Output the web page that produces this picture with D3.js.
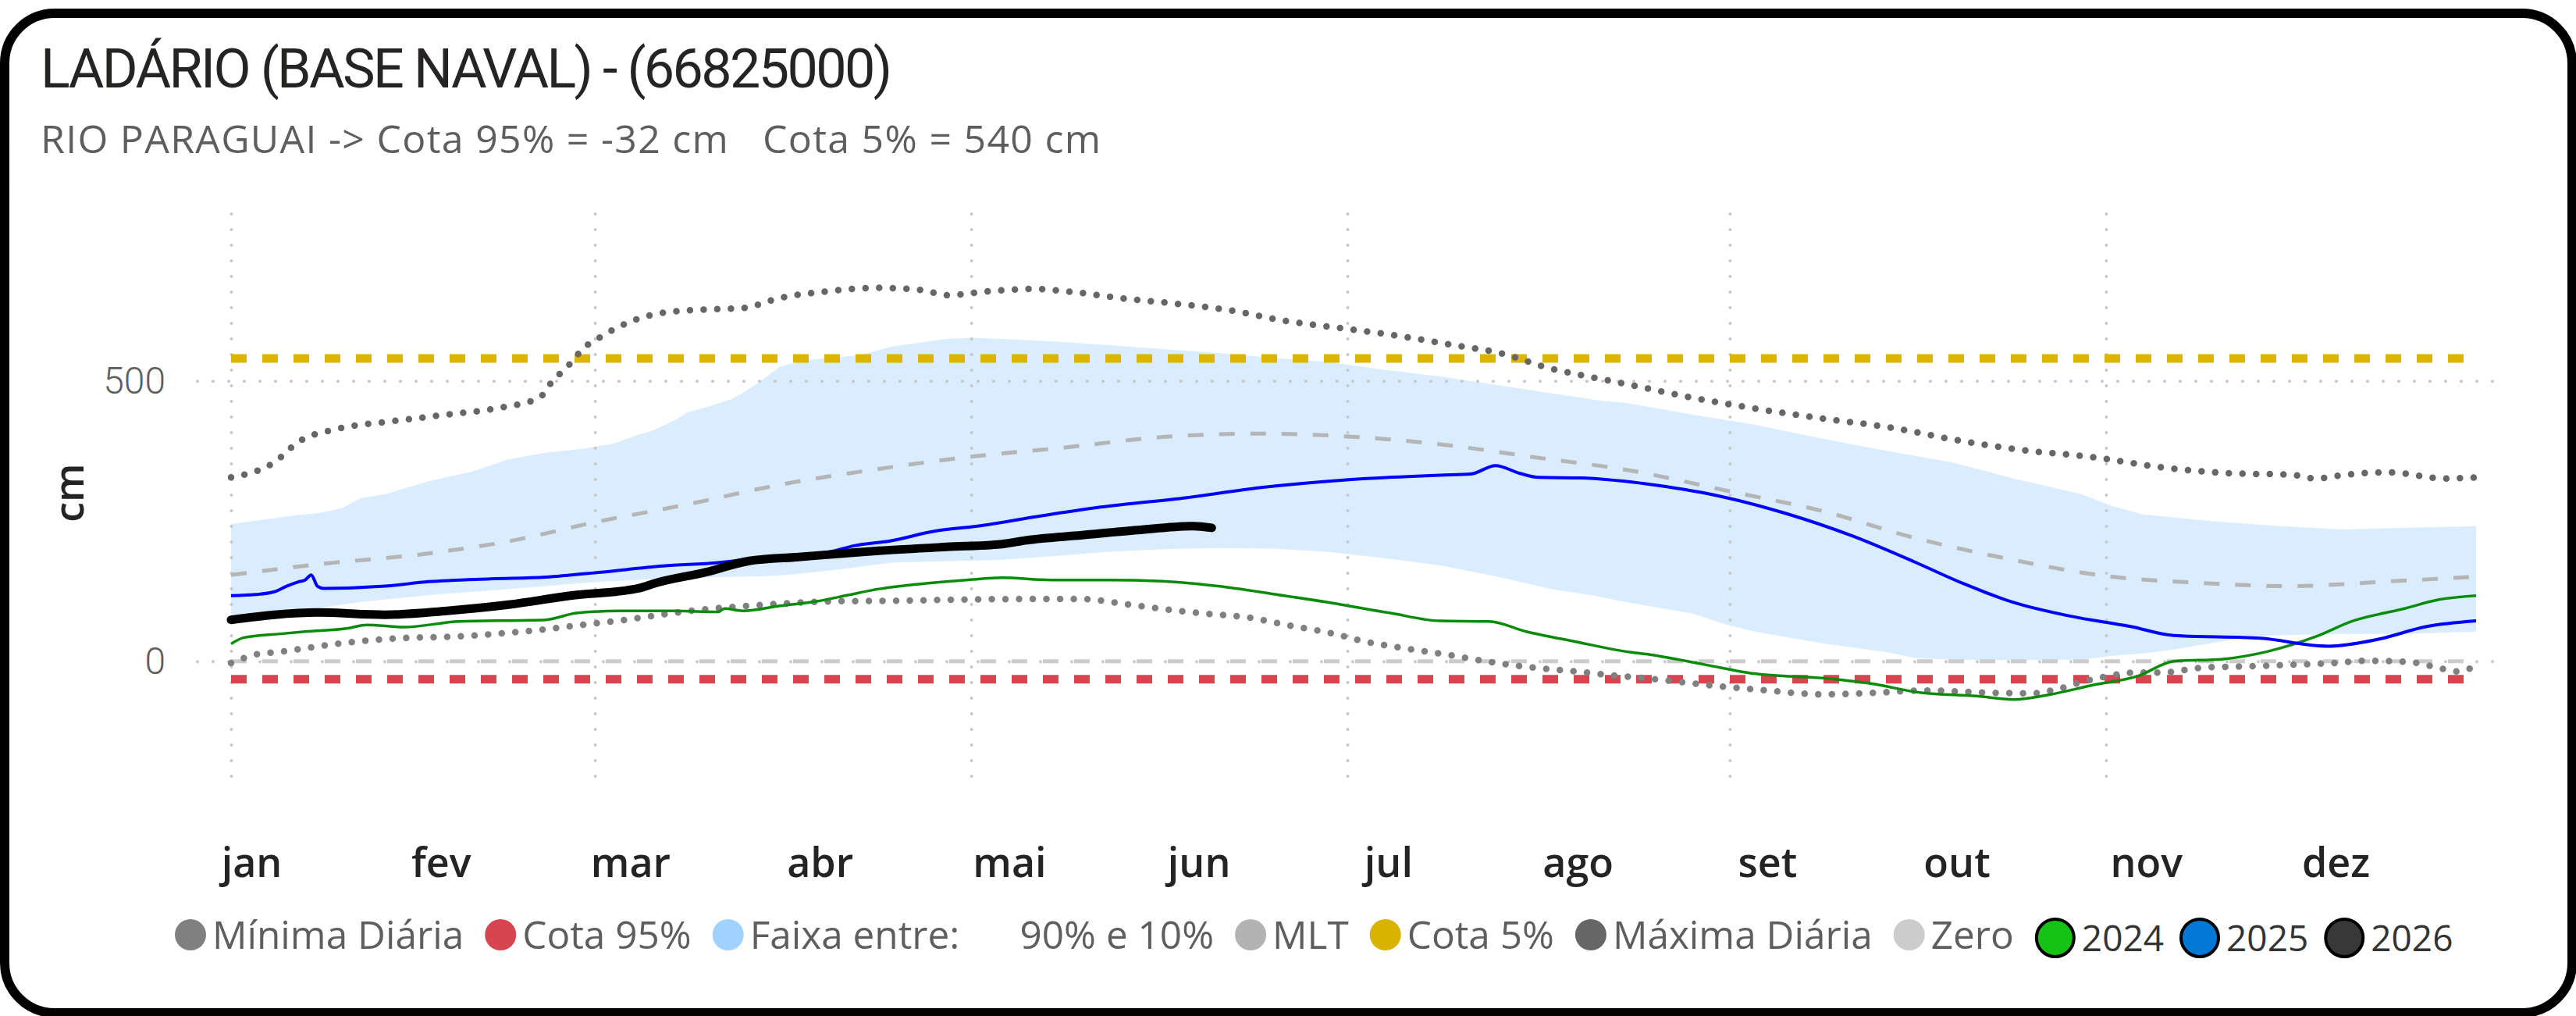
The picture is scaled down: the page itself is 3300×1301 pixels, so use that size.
<!DOCTYPE html>
<meta charset="utf-8">
<style>
body { margin: 0; background: #fff; }
svg text { font-family: "Open Sans", sans-serif; }
.grid line { stroke: #c8c8c8; stroke-width: 4; stroke-dasharray: 0 20; stroke-linecap: round; }
.grid .domain { display: none; }
.serie { fill: none; }
</style>
<body>
<svg width="3300" height="1301"></svg>
<script src="https://d3js.org/d3.v7.min.js"></script>
<script>
// meses e dias do ano usados nas grades
var months = ["jan", "fev", "mar", "abr", "mai", "jun", "jul", "ago", "set", "out", "nov", "dez"];
var gridDays = [0, 59, 120, 181, 243, 304];
var yTicks = [0, 500];

var cota95 = -32, cota5 = 540, zero = 0;

// [dia do ano, cota em cm]
var maxDaily = [[0,328],[7,355],[11,392],[17,414],[26,428],[35,440],[44,453],[50,470],[52,498],[55,531],[57,557],[60,579],[65,607],[71,623],[78,628],[83,630],[89,648],[96,659],[105,666],[112,662],[116,653],[123,660],[130,664],[137,658],[144,648],[153,638],[162,626],[171,607],[180,594],[189,581],[197,566],[206,549],[214,522],[220,508],[226,495],[237,470],[247,451],[258,433],[269,417],[280,394],[291,376],[302,364],[313,346],[325,335],[334,333],[338,326],[343,333],[350,337],[359,326],[364,328]];

var minDaily = [[0,-3],[4,12],[8,17],[15,28],[21,36],[29,42],[36,44],[43,49],[50,56],[57,65],[64,74],[71,85],[77,93],[84,99],[91,104],[98,107],[108,108],[118,110],[128,111],[138,111],[145,102],[152,92],[158,85],[165,78],[172,63],[178,51],[184,35],[191,22],[197,12],[204,-1],[211,-11],[218,-18],[224,-25],[231,-32],[240,-43],[249,-52],[258,-59],[265,-57],[275,-52],[285,-56],[292,-57],[296,-50],[300,-37],[304,-27],[309,-20],[313,-20],[320,-11],[327,-9],[334,-6],[341,-3],[346,1],[353,-1],[357,-9],[361,-18],[364,-8]];

var bandHigh = [[0,245],[5,252],[10,260],[14,264],[18,273],[21,291],[25,298],[32,321],[39,338],[45,360],[51,372],[57,379],[62,388],[66,404],[68,410],[72,430],[74,444],[77,453],[81,467],[83,479],[85,493],[89,525],[93,537],[98,542],[102,546],[107,561],[116,575],[120,577],[125,575],[134,570],[142,564],[151,557],[160,550],[169,541],[178,534],[187,520],[196,508],[205,493],[214,478],[222,465],[226,461],[237,440],[247,422],[258,397],[268,376],[279,355],[289,326],[300,298],[305,277],[310,262],[321,250],[331,242],[342,235],[352,238],[364,241]];

var bandLow = [[0,83],[10,88],[21,106],[34,120],[43,127],[51,134],[60,142],[70,147],[79,150],[87,152],[92,156],[98,163],[107,176],[118,179],[125,181],[134,188],[142,195],[151,200],[160,202],[169,201],[178,195],[187,184],[196,171],[205,152],[214,129],[221,117],[226,106],[237,85],[242,67],[247,53],[258,32],[268,17],[273,6],[279,3],[289,2],[300,3],[305,10],[310,14],[315,21],[321,32],[326,42],[331,46],[342,49],[352,49],[364,53]];

var mlt = [[0,154],[15,174],[31,191],[45,214],[59,248],[74,280],[90,317],[105,343],[120,365],[135,381],[151,400],[166,406],[181,401],[196,387],[212,363],[227,340],[243,303],[258,268],[273,220],[288,183],[304,152],[319,140],[334,134],[349,142],[364,151]];

var y2024 = [[0,31],[2,42],[8,49],[12,53],[19,59],[22,65],[28,61],[37,71],[47,73],[51,74],[56,86],[63,90],[72,90],[79,88],[80,94],[83,90],[89,99],[95,107],[100,118],[104,127],[110,136],[118,144],[125,149],[133,145],[142,145],[151,143],[160,134],[169,120],[178,105],[188,86],[196,72],[204,71],[210,53],[218,35],[227,16],[230,12],[239,-6],[247,-22],[258,-30],[266,-40],[274,-56],[283,-62],[289,-68],[295,-59],[302,-42],[309,-27],[315,0],[323,4],[330,17],[338,44],[344,72],[352,93],[358,110],[364,117]];

var y2025 = [[0,117],[4,119],[7,124],[9,134],[11,142],[12,145],[13,154],[14,134],[15,130],[25,134],[32,142],[42,147],[51,150],[60,159],[70,170],[79,176],[87,186],[97,195],[101,206],[107,215],[114,232],[121,241],[130,257],[141,275],[155,292],[167,310],[180,323],[196,332],[201,334],[205,349],[209,335],[212,328],[219,327],[226,321],[231,314],[242,293],[252,264],[263,223],[273,177],[281,138],[289,105],[298,81],[308,62],[315,46],[329,41],[340,27],[348,39],[356,62],[364,72]];

var y2026 = [[0,74],[7,83],[14,87],[25,83],[35,90],[45,101],[55,117],[66,130],[69,140],[77,159],[84,179],[92,186],[100,193],[105,197],[116,204],[125,209],[129,216],[138,225],[147,234],[156,241],[159,238]];

var legendLabels = ["Mínima Diária", "Cota 95%", "Faixa entre:      90% e 10%", "MLT", "Cota 5%", "Máxima Diária", "Zero", "2024", "2025", "2026"];
var legendColors = ["#808080", "#d64550", "#a0d1ff", "#b3b3b3", "#d9b300", "#666666", "#cccccc", "#15c315", "#0078d4", "#383838"];

var svg = d3.select("svg");

var x = d3.scaleLinear().domain([0, 364]).range([296, 3172]);
var y = d3.scaleLinear().domain([-205, 800]).range([994, 272.4]);
var xMonth = d3.scalePoint().domain(months).range([322, 2992]);

svg.append("rect")
    .attr("x", 6).attr("y", 17)
    .attr("width", 3289).attr("height", 1280)
    .attr("rx", 64)
    .attr("fill", "#fff")
    .attr("stroke", "#000")
    .attr("stroke-width", 12);

svg.append("text")
    .attr("x", 52).attr("y", 112)
    .attr("textLength", 1091)
    .style("font-family", "Roboto, sans-serif")
    .style("font-size", "70px")
    .attr("fill", "#252423")
    .text("LADÁRIO (BASE NAVAL) - (66825000)");

svg.append("text")
    .attr("x", 52).attr("y", 196)
    .attr("textLength", 1358)
    .style("font-size", "50px")
    .style("white-space", "pre")
    .attr("fill", "#605e5c")
    .text("RIO PARAGUAI -> Cota 95% = -32 cm   Cota 5% = 540 cm");

// faixa 90% - 10%
var bandLine = d3.line()
    .x(function(d) { return x(d[0]); })
    .y(function(d) { return y(d[1]); });

svg.append("path")
    .attr("d", bandLine(bandHigh.concat(bandLow.slice().reverse())) + "Z")
    .attr("fill", "#a0d1ff")
    .attr("fill-opacity", 0.4);

// grades
svg.append("g")
    .attr("class", "grid")
    .attr("transform", "translate(0,994)")
    .call(d3.axisBottom(x).tickValues(gridDays).tickSize(-(994 - 272.4)).tickFormat(""));

var yAxis = svg.append("g")
    .attr("class", "grid")
    .attr("transform", "translate(253,0)")
    .call(d3.axisLeft(y).tickValues(yTicks).tickSize(-(3194 - 253)).tickPadding(41));

yAxis.selectAll("text")
    .style("font-family", "Roboto, sans-serif")
    .style("font-weight", 300)
    .style("font-size", "48px")
    .attr("fill", "#605e5c");

var monthAxis = svg.append("g")
    .attr("transform", "translate(0,1083)")
    .call(d3.axisBottom(xMonth).tickSize(0).tickPadding(0));
monthAxis.select(".domain").remove();
monthAxis.selectAll("text")
    .attr("dy", "0.76em")
    .style("font-size", "52px")
    .style("font-weight", 600)
    .attr("fill", "#252423");

svg.append("text")
    .attr("transform", "translate(86,631) rotate(-90)")
    .attr("text-anchor", "middle")
    .attr("dominant-baseline", "central")
    .style("font-size", "52px")
    .style("font-weight", 600)
    .attr("fill", "#252423")
    .text("cm");

var line = d3.line()
    .curve(d3.curveMonotoneX)
    .x(function(d) { return x(d[0]); })
    .y(function(d) { return y(d[1]); });

function flat(v) { return [[0, v], [364, v]]; }

svg.append("path").attr("class", "serie").attr("d", line(flat(zero)))
    .attr("stroke", "#cccccc").attr("stroke-width", 5).attr("stroke-dasharray", "20 20");

svg.append("path").attr("class", "serie").attr("d", line(flat(cota95)))
    .attr("stroke", "#d9444f").attr("stroke-width", 11).attr("stroke-dasharray", "20 20");

svg.append("path").attr("class", "serie").attr("d", line(flat(cota5)))
    .attr("stroke", "#ddb400").attr("stroke-width", 11).attr("stroke-dasharray", "20 20");

svg.append("path").attr("class", "serie").attr("d", line(mlt))
    .attr("stroke", "#b5b5b5").attr("stroke-width", 5).attr("stroke-dasharray", "20 20");

svg.append("path").attr("class", "serie").attr("d", line(maxDaily))
    .attr("stroke", "#666666").attr("stroke-width", 8.5)
    .attr("stroke-linecap", "round").attr("stroke-dasharray", "0 17.5");

svg.append("path").attr("class", "serie").attr("d", line(minDaily))
    .attr("stroke", "#808080").attr("stroke-width", 8.5)
    .attr("stroke-linecap", "round").attr("stroke-dasharray", "0 17.5");

svg.append("path").attr("class", "serie").attr("d", line(y2024))
    .attr("stroke", "#0a8c0a").attr("stroke-width", 3.5);

svg.append("path").attr("class", "serie").attr("d", line(y2025))
    .attr("stroke", "#0000ff").attr("stroke-width", 4);

svg.append("path").attr("class", "serie").attr("d", line(y2026))
    .attr("stroke", "#000").attr("stroke-width", 11)
    .attr("stroke-linecap", "round").attr("stroke-linejoin", "round");

// legenda
var legend = svg.append("g");
var cursor = 224;
legendLabels.forEach(function(label, i) {
    var isYear = i >= 7;
    var r = isYear ? 24 : 20;
    var outer = isYear ? 26 : 20;
    legend.append("circle")
        .attr("cx", cursor + outer)
        .attr("cy", isYear ? 1201 : 1197)
        .attr("r", r)
        .attr("fill", legendColors[i])
        .attr("stroke", isYear ? "#000" : "none")
        .attr("stroke-width", 4);
    var t = legend.append("text")
        .attr("x", cursor + 2 * outer + 8)
        .attr("y", isYear ? 1218 : 1215)
        .style("font-size", isYear ? "46px" : "49.5px")
        .style("white-space", "pre")
        .attr("fill", isYear ? "#333333" : "#605e5c")
        .text(label);
    cursor = cursor + 2 * outer + 8 + t.node().getComputedTextLength() + (isYear ? 20 : 27);
});
</script>
</body>
